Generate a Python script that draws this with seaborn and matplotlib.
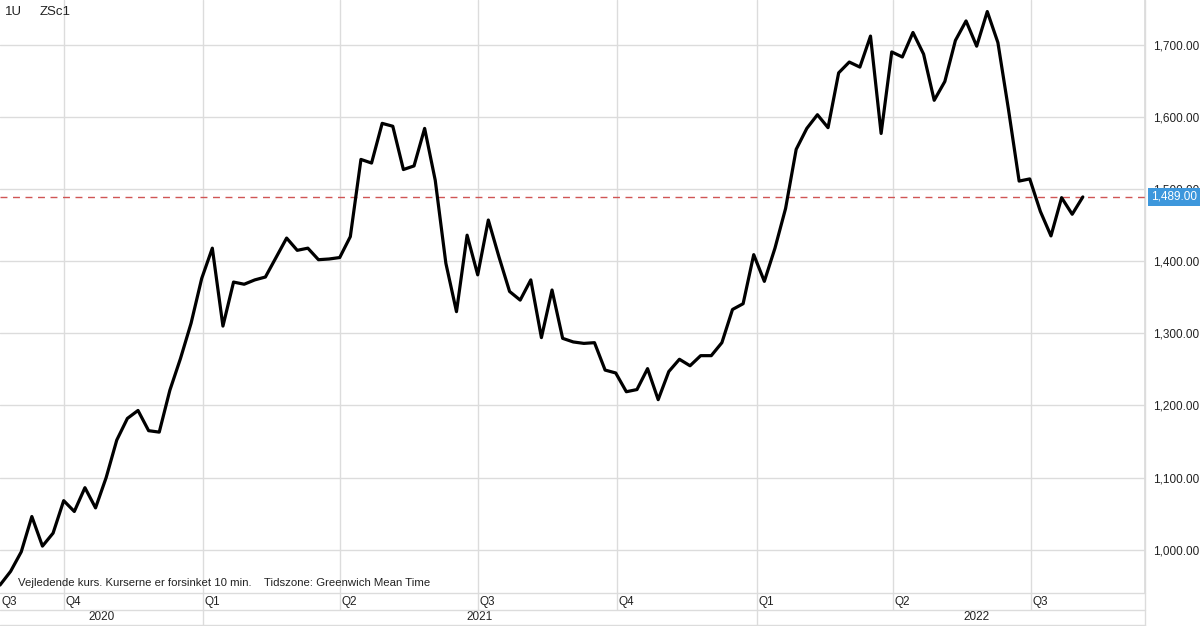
import matplotlib
matplotlib.use("Agg")
import matplotlib.pyplot as plt
from matplotlib.lines import Line2D
import seaborn as sns
import pandas as pd

# ---- data (weekly closes) ----
start_date = "2020-08-20"
prices = [951, 970, 997, 1046, 1005, 1023, 1068, 1053, 1086, 1058,
          1100, 1152, 1182, 1193, 1165, 1163, 1221, 1265, 1314, 1376,
          1418, 1310, 1371, 1368, 1374, 1378, 1405, 1432, 1415, 1418,
          1402, 1403, 1405, 1434, 1541, 1536, 1591, 1587, 1527, 1532,
          1584, 1512, 1397, 1330, 1436, 1381, 1457, 1406, 1358, 1346,
          1374, 1294, 1360, 1293, 1288, 1286, 1287, 1249, 1245, 1219,
          1222, 1251, 1208, 1247, 1264, 1255, 1269, 1269, 1287, 1333,
          1341, 1409, 1372, 1418, 1473, 1555, 1584, 1603, 1585, 1661,
          1676, 1669, 1712, 1577, 1690, 1683, 1717, 1687, 1623, 1649,
          1706, 1733, 1698, 1746, 1703, 1610, 1511, 1514, 1469, 1435,
          1488, 1465, 1489]
last_price = 1489.00
y_ticks = [1000, 1100, 1200, 1300, 1400, 1500, 1600, 1700]
quarter_starts = ["2020-07-01", "2020-10-01", "2021-01-01", "2021-04-01", "2021-07-01",
                  "2021-10-01", "2022-01-01", "2022-04-01", "2022-07-01"]
quarter_labels = ["Q3", "Q4", "Q1", "Q2", "Q3", "Q4", "Q1", "Q2", "Q3"]
year_starts = ["2021-01-01", "2022-01-01"]
year_labels = ["2020", "2021", "2022"]
title_left = "1U"
title_symbol = "ZSc1"
footnote = "Vejledende kurs. Kurserne er forsinket 10 min.    Tidszone: Greenwich Mean Time"

dates = pd.date_range(start_date, periods=len(prices), freq="7D")
df = pd.DataFrame({"date": dates, "price": prices})

sns.set_theme(style="white")
plt.rcParams["font.family"] = ["Liberation Sans", "DejaVu Sans"]

W, H = 1200, 626
fig = plt.figure(figsize=(W / 100, H / 100), dpi=100)
plot_right = 1145 / W
plot_bottom_px = 593
ax = fig.add_axes([0, (H - plot_bottom_px) / H, plot_right, plot_bottom_px / H])

xmin = pd.Timestamp("2020-08-20")
xmax = pd.Timestamp("2022-09-14")
grid_c = "#dcdcdc"
txt_c = "#222222"

sns.lineplot(data=df, x="date", y="price", ax=ax, color="black", linewidth=2.3, zorder=5)
ax.set_xlim(xmin, xmax)
ax.set_ylim(940, 1762)
ax.set_xlabel("")
ax.set_ylabel("")

# grid
for q in quarter_starts:
    qd = pd.Timestamp(q)
    if xmin < qd < xmax:
        ax.axvline(qd, color=grid_c, lw=1, zorder=1)
for yt in y_ticks:
    ax.axhline(yt, color=grid_c, lw=1, zorder=1)

ax.yaxis.tick_right()
ax.set_yticks(y_ticks)
ax.set_yticklabels([f"{v:,.2f}" for v in y_ticks])
ax.tick_params(axis="y", length=0, pad=6, labelsize=8.5, labelcolor=txt_c)
ax.set_xticks([])
for s in ["top", "left", "bottom"]:
    ax.spines[s].set_visible(False)
ax.spines["right"].set_color(grid_c)

# last price line and label
ax.axhline(last_price, color="#d05555", lw=1, ls=(0, (5, 4)), zorder=4)
ax.annotate(f"{last_price:,.2f}", xy=(1.0, last_price), xycoords=("axes fraction", "data"),
            xytext=(4, 0), textcoords="offset points", ha="left", va="center",
            fontsize=8.5, color="white", zorder=10,
            bbox=dict(boxstyle="square,pad=0.25", fc="#3d97dc", ec="none"))

# header and footnote
fig.text(5 / W, 1 - 12 / H, title_left, fontsize=9.5, color=txt_c, va="center", ha="left")
fig.text(40 / W, 1 - 12 / H, title_symbol, fontsize=9.5, color=txt_c, va="center", ha="left")
ax.text(18 / 1145, 5 / plot_bottom_px, footnote, transform=ax.transAxes, fontsize=8.2,
        color=txt_c, va="bottom", ha="left")

# quarter row
axq = fig.add_axes([0, 16 / H, plot_right, 17 / H])
axq.set_xlim(xmin, xmax)
axq.set_ylim(0, 1)
axq.axis("off")
for q, lab in zip(quarter_starts, quarter_labels):
    qd = pd.Timestamp(q)
    if qd > xmax:
        continue
    if qd > xmin:
        axq.axvline(qd, color=grid_c, lw=1)
        axq.text(qd + pd.Timedelta(days=1), 0.5, lab, fontsize=8.5, va="center", ha="left", color=txt_c)
    else:
        axq.text(xmin + pd.Timedelta(days=1), 0.5, lab, fontsize=8.5, va="center", ha="left", color=txt_c)

# year row
axy = fig.add_axes([0, 0, plot_right, 16 / H])
axy.set_xlim(xmin, xmax)
axy.set_ylim(0, 1)
axy.axis("off")
ys = [pd.Timestamp(y) for y in year_starts]
for yd in ys:
    axy.axvline(yd, color=grid_c, lw=1)
axy.text(xmin + (ys[0] - xmin) / 2, 0.55, year_labels[0], fontsize=8.5, va="center", ha="center", color=txt_c)
axy.text(ys[0] + (ys[1] - ys[0]) / 2, 0.55, year_labels[1], fontsize=8.5, va="center", ha="center", color=txt_c)
fig.text(977 / W, 0.55 * 16 / H, year_labels[2], fontsize=8.5, va="center", ha="center", color=txt_c)

# horizontal separators
for ypx in [593, 610, 625]:
    fig.add_artist(Line2D([0, plot_right], [1 - ypx / H, 1 - ypx / H], transform=fig.transFigure,
                          color=grid_c, lw=1))
fig.add_artist(Line2D([plot_right, plot_right], [0, 1], transform=fig.transFigure, color=grid_c, lw=1))

fig.savefig("out.png", dpi=100, facecolor="white")
